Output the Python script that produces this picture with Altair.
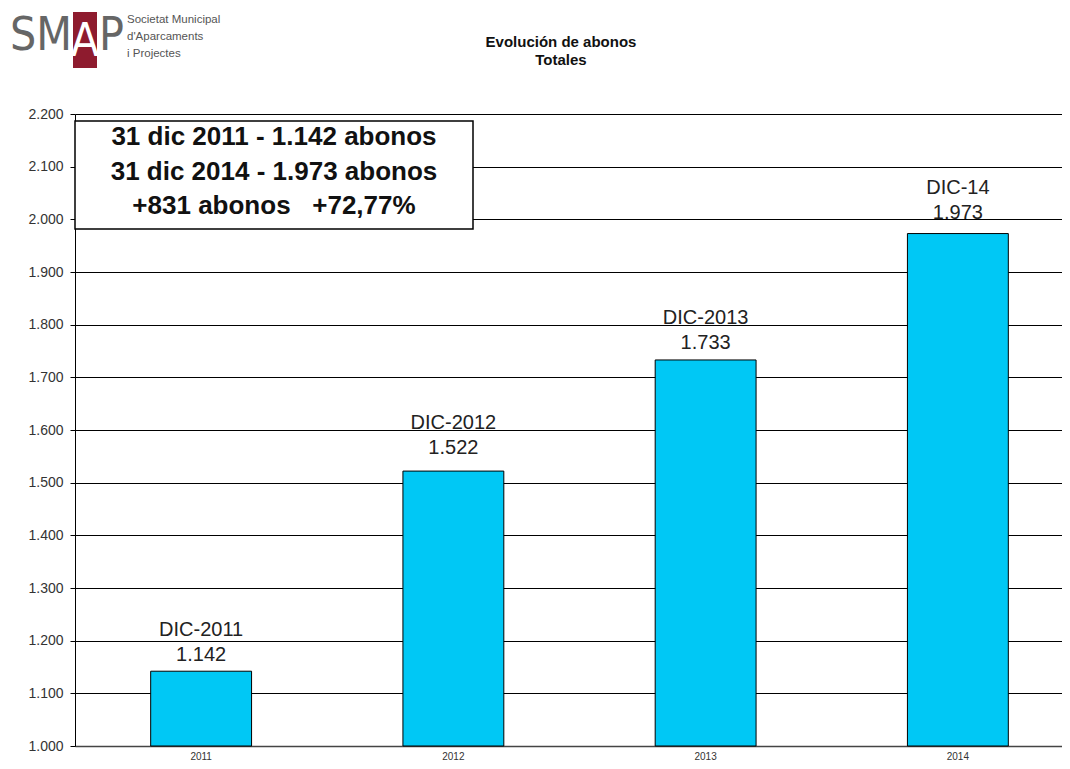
import altair as alt
import pandas as pd

years = ["2011", "2012", "2013", "2014"]
values = [1142, 1522, 1733, 1973]
names = ["DIC-2011", "DIC-2012", "DIC-2013", "DIC-14"]
y_ticks = [1000, 1100, 1200, 1300, 1400, 1500, 1600, 1700, 1800, 1900, 2000, 2100, 2200]
notes = ["31 dic 2011 - 1.142 abonos", "31 dic 2014 - 1.973 abonos", "+831 abonos\u00a0\u00a0\u00a0+72,77%"]
title_lines = ["Evolución de abonos", "Totales"]
logo_sub = ["Societat Municipal", "d'Aparcaments", "i Projectes"]

# label offsets (pixels above bar top) for value / name, per bar
label_dy = {"2011": (-10, -35), "2012": (-17, -42), "2013": (-11, -36), "2014": (-15, -40)}

df = pd.DataFrame({"year": years, "value": values, "name": names})
one = pd.DataFrame({"k": [0]})

FONT = "Liberation Sans, Arial, sans-serif"
NARROW = "Liberation Sans Narrow, Arial Narrow, DejaVu Sans Condensed, sans-serif"

x_enc = alt.X(
    "year:N",
    scale=alt.Scale(range=[0, 1009], paddingInner=0.6, paddingOuter=0.3),
    axis=alt.Axis(title=None, labelAngle=0, ticks=False, labelPadding=5,
                  labelFont=FONT, labelFontSize=10, labelColor="#333333",
                  domainColor="#444444", domainWidth=1.5, grid=False),
)
y_scale = alt.Scale(domain=[1000, 2200], nice=False, zero=False)
y_enc = alt.Y(
    "value:Q",
    scale=y_scale,
    axis=alt.Axis(title=None, values=y_ticks, grid=True, gridColor="#000000", gridWidth=1,
                  gridOpacity=1, domain=True, domainColor="#000000", tickColor="#000000",
                  tickSize=5, labelPadding=7, labelFont=FONT, labelFontSize=14,
                  labelColor="#333333",
                  labelExpr="replace(format(datum.value, ',d'), ',', '.')"),
)

bars = alt.Chart(df).mark_bar(color="#00C8F5", stroke="#000000", strokeWidth=1).encode(
    x=x_enc, y=y_enc, y2=alt.datum(1000)
)

lbl = alt.Chart(df).transform_calculate(
    vl="replace(format(datum.value, ',d'), ',', '.')"
)
label_layers = []
for yr in years:
    dv, dn = label_dy[yr]
    base = lbl.transform_filter(alt.datum.year == yr)
    label_layers.append(
        base.mark_text(font=FONT, fontSize=20, color="#222222", baseline="alphabetic", dy=dv).encode(
            x=alt.X("year:N"), y=alt.Y("value:Q"), text="vl:N")
    )
    label_layers.append(
        base.mark_text(font=FONT, fontSize=20, color="#222222", baseline="alphabetic", dy=dn).encode(
            x=alt.X("year:N"), y=alt.Y("value:Q"), text="name:N")
    )

box = alt.Chart(one).mark_rect(fill="white", stroke="#000000", strokeWidth=1.5).encode(
    x=alt.value(0), x2=alt.value(398), y=alt.value(7), y2=alt.value(115)
)
box_text = alt.Chart(one).mark_text(
    font=FONT, fontSize=26, fontWeight="bold", color="#111111", align="center",
    baseline="top", lineBreak="\n", lineHeight=34.5
).encode(x=alt.value(199), y=alt.value(10), text=alt.value("\n".join(notes)))

title = alt.Chart(one).mark_text(
    font=FONT, fontSize=15, fontWeight="bold", color="#111111", align="center",
    baseline="top", lineBreak="\n", lineHeight=18
).encode(x=alt.value(486), y=alt.value(-79), text=alt.value("\n".join(title_lines)))

logo_rect = alt.Chart(one).mark_rect(fill="#8E1B2E").encode(
    x=alt.value(-2), x2=alt.value(22), y=alt.value(-102), y2=alt.value(-46)
)
logo_sm = alt.Chart(one).mark_text(
    font=NARROW, fontSize=46, color="#666666", align="right", baseline="alphabetic"
).encode(x=alt.value(-3), y=alt.value(-64), text=alt.value("SM"))
logo_a = alt.Chart(one).mark_text(
    font=NARROW, fontSize=46, color="#FFFFFF", align="center", baseline="alphabetic"
).encode(x=alt.value(10), y=alt.value(-58), text=alt.value("A"))
logo_p = alt.Chart(one).mark_text(
    font=NARROW, fontSize=46, color="#666666", align="left", baseline="alphabetic"
).encode(x=alt.value(24), y=alt.value(-64), text=alt.value("P"))
logo_sub_t = alt.Chart(one).mark_text(
    font=FONT, fontSize=11.5, color="#555555", align="left", baseline="alphabetic",
    lineBreak="\n", lineHeight=17
).encode(x=alt.value(52), y=alt.value(-91), text=alt.value("\n".join(logo_sub)))

chart = alt.layer(
    bars, *label_layers, box, box_text, title,
    logo_rect, logo_sm, logo_a, logo_p, logo_sub_t
).properties(
    width=985, height=632,
    autosize=alt.AutoSizeParams(type="none"),
    padding={"left": 67, "top": 106, "right": 2, "bottom": 15},
    background="white",
).configure_view(stroke=None)

chart.save("out.html", embed_options={"renderer": "svg", "actions": False})
